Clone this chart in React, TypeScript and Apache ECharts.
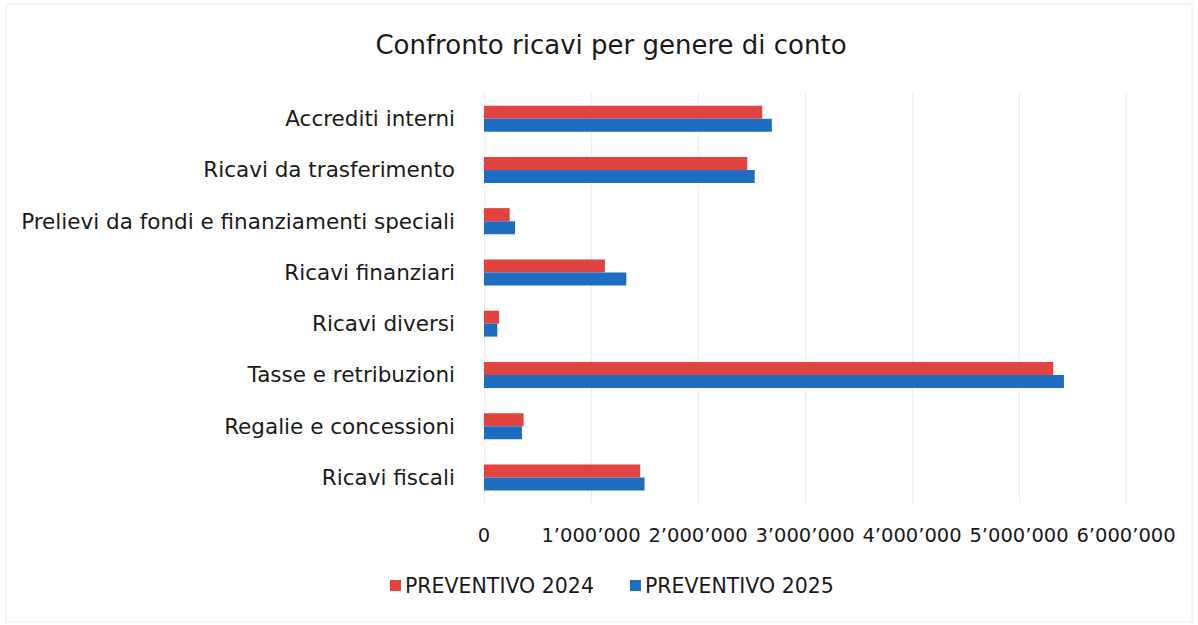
import React, { useEffect, useRef } from "react";
import * as echarts from "echarts";

const categories = [
  "Ricavi fiscali",
  "Regalie e concessioni",
  "Tasse e retribuzioni",
  "Ricavi diversi",
  "Ricavi finanziari",
  "Prelievi da fondi e finanziamenti speciali",
  "Ricavi da trasferimento",
  "Accrediti interni",
];
const preventivo2024 = [1460000, 370000, 5320000, 140000, 1130000, 240000, 2460000, 2600000];
const preventivo2025 = [1500000, 355000, 5420000, 125000, 1330000, 290000, 2530000, 2690000];
const xTicks = [0, 1000000, 2000000, 3000000, 4000000, 5000000, 6000000];

const FONT = "'DejaVu Sans', Verdana, sans-serif";

function fmt(v: number): string {
  if (v === 0) return "0";
  return String(Math.round(v)).replace(/\B(?=(\d{3})+(?!\d))/g, "\u2019");
}

export default function App() {
  const ref = useRef<HTMLDivElement>(null);
  useEffect(() => {
    if (!ref.current) return;
    const chart = echarts.init(ref.current, undefined, { renderer: "svg" });
    chart.setOption({
      animation: false,
      backgroundColor: "#ffffff",
      graphic: [
        {
          type: "rect",
          shape: { x: 6, y: 4, width: 1186, height: 618 },
          style: { fill: "none", stroke: "#f3f3f3", lineWidth: 1.5 },
          silent: true,
        },
      ],
      title: {
        text: "Confronto ricavi per genere di conto",
        left: 606,
        top: 27,
        textAlign: "center",
        textStyle: { fontFamily: FONT, fontSize: 26, fontWeight: "normal", color: "#1a1a1a" },
      },
      legend: {
        data: ["PREVENTIVO 2024", "PREVENTIVO 2025"],
        left: 385,
        top: 570,
        itemWidth: 11,
        itemHeight: 11,
        itemGap: 36,
        icon: "rect",
        textStyle: { fontFamily: FONT, fontSize: 20.5, color: "#1a1a1a", padding: [0, 0, 0, -1] },
      },
      grid: { left: 484, right: 72, top: 93, bottom: 122, containLabel: false },
      xAxis: {
        type: "value",
        min: xTicks[0],
        max: xTicks[xTicks.length - 1],
        interval: 1000000,
        axisLine: { show: false },
        axisTick: { show: false },
        splitLine: { show: true, lineStyle: { color: "#ececec", width: 1 } },
        axisLabel: {
          margin: 22,
          fontFamily: FONT,
          fontSize: 19.5,
          color: "#1a1a1a",
          formatter: (v: number) => fmt(v),
        },
      },
      yAxis: {
        type: "category",
        data: categories,
        axisLine: { show: false },
        axisTick: { show: false },
        splitLine: { show: false },
        axisLabel: { margin: 29, fontFamily: FONT, fontSize: 21.5, color: "#1a1a1a" },
      },
      series: [
        {
          name: "PREVENTIVO 2024",
          type: "bar",
          data: preventivo2024,
          barWidth: 13,
          barGap: "0%",
          itemStyle: { color: "#E1443F" },
        },
        {
          name: "PREVENTIVO 2025",
          type: "bar",
          data: preventivo2025,
          barWidth: 13,
          barGap: "0%",
          itemStyle: { color: "#1D6DC0" },
        },
      ],
    });
    return () => chart.dispose();
  }, []);
  return (
    <div
      ref={ref}
      style={{ position: "fixed", left: 0, top: 0, width: 1198, height: 625 }}
    />
  );
}
